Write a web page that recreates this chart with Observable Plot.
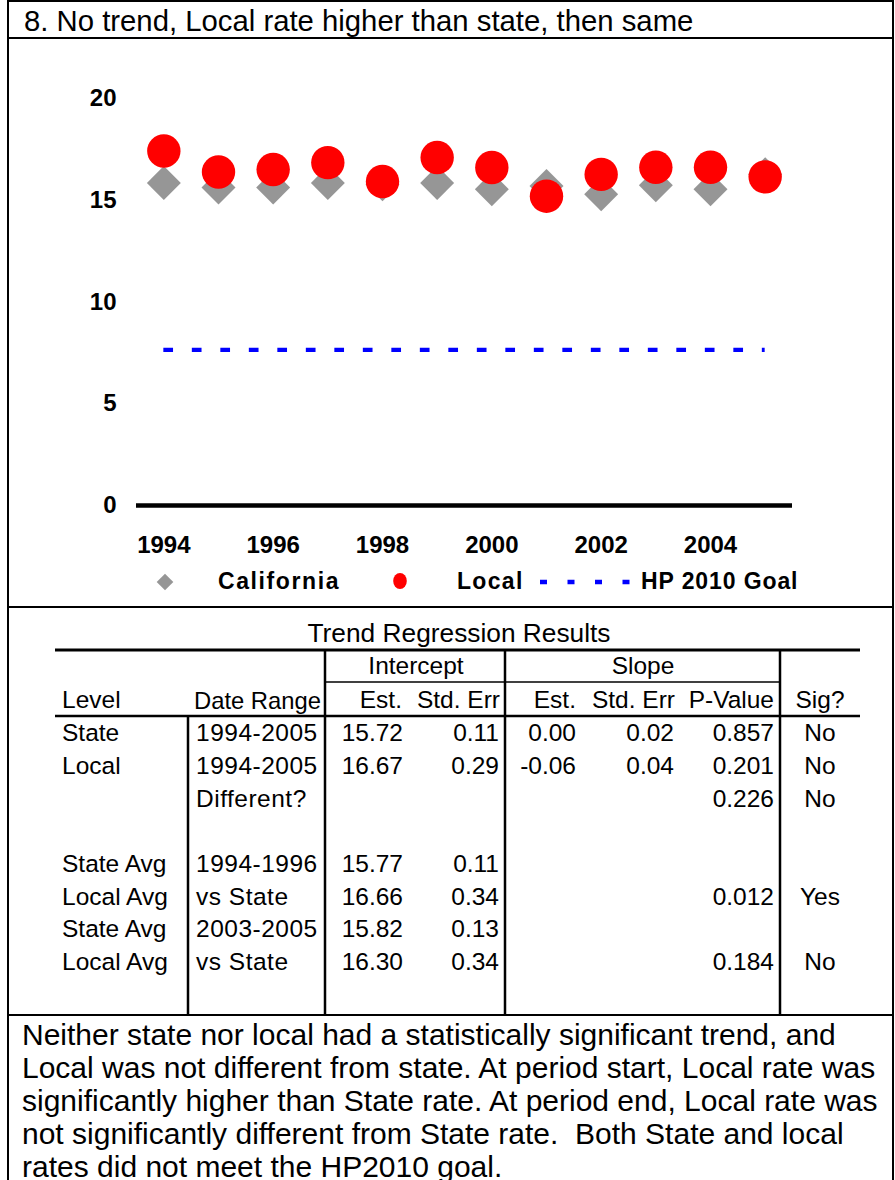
<!DOCTYPE html>
<html><head><meta charset="utf-8">
<script src="https://cdn.jsdelivr.net/npm/d3@7"></script>
<script src="https://cdn.jsdelivr.net/npm/@observablehq/plot@0.6"></script>
<style>
body{margin:0;background:#fff;}
#page{position:relative;width:895px;height:1180px;overflow:hidden;font-family:'Liberation Sans',Arial,sans-serif;color:#000;background:#fff;}
.t{position:absolute;white-space:pre;line-height:1;}
</style></head><body><div id="page"></div>
<script>
// ---- chart data ----
const years = [1994,1995,1996,1997,1998,1999,2000,2001,2002,2003,2004,2005];
const california = [15.85,15.63,15.63,15.85,15.79,15.85,15.54,15.70,15.30,15.74,15.54,16.28];
const local = [17.42,16.39,16.51,16.85,15.92,17.10,16.61,15.20,16.27,16.62,16.62,16.15];
const hpGoal = 7.65;
const goalStart = 1994, goalEnd = 2005;
const xTicks = [1994,1996,1998,2000,2002,2004];
const yTicks = [0,5,10,15,20];
const legendLabels = ["California","Local","HP 2010 Goal"];

// ---- texts ----
const titleText = "8. No trend, Local rate higher than state, then same";
const tableTitle = "Trend Regression Results";
const groupHeaders = ["Intercept","Slope"];
const colHeaders = ["Level","Date Range","Est.","Std. Err","Est.","Std. Err","P-Value","Sig?"];
const rowLevel = ["State","Local","","","State Avg","Local Avg","State Avg","Local Avg"];
const rowRange = ["1994-2005","1994-2005","Different?","","1994-1996","vs State","2003-2005","vs State"];
const intEst = ["15.72","16.67","","","15.77","16.66","15.82","16.30"];
const intErr = ["0.11","0.29","","","0.11","0.34","0.13","0.34"];
const slopeEst = ["0.00","-0.06","","","","","",""];
const slopeErr = ["0.02","0.04","","","","","",""];
const pValue = ["0.857","0.201","0.226","","","0.012","","0.184"];
const sig = ["No","No","No","","","Yes","","No"];
const noteLines = [
 "Neither state nor local had a statistically significant trend, and",
 "Local was not different from state. At period start, Local rate was",
 "significantly higher than State rate. At period end, Local rate was",
 "not significantly different from State rate.  Both State and local",
 "rates did not meet the HP2010 goal."
];

const page = document.getElementById("page");
const FONT = "'Liberation Sans', Arial, sans-serif";

function text(x, baseline, str, size, opts = {}) {
  const d = document.createElement("div");
  d.className = "t";
  d.textContent = str;
  d.style.fontSize = size + "px";
  d.style.left = x + "px";
  d.style.top = (baseline - 0.8465 * size) + "px";
  if (opts.bold) d.style.fontWeight = "bold";
  if (opts.ls) d.style.letterSpacing = opts.ls + "px";
  if (opts.anchor === "end") d.style.transform = "translateX(-100%)";
  if (opts.anchor === "middle") d.style.transform = "translateX(-50%)";
  page.appendChild(d);
  return d;
}

// ---- background svg: frame, table rules, legend swatches ----
const bg = d3.select(page).append("svg")
  .attr("width", 895).attr("height", 1180)
  .style("position", "absolute").style("left", 0).style("top", 0);

function line(x1, y1, x2, y2, w, color = "#000", dash = null) {
  const l = bg.append("line").attr("x1", x1).attr("y1", y1).attr("x2", x2).attr("y2", y2)
    .attr("stroke", color).attr("stroke-width", w);
  if (dash) l.attr("stroke-dasharray", dash);
}
// outer frame
line(8, 0, 8, 1180, 2);
line(893, 0, 893, 1180, 2);
line(8, 1, 893, 1, 2);
line(8, 38, 893, 38, 2);
line(8, 607, 893, 607, 2);
line(8, 1015, 893, 1015, 2);
// table rules
line(55, 650, 860, 650, 3);
line(325, 682, 780, 682, 1.6);
line(55, 716, 860, 716, 2.5);
[325, 505, 780].forEach(x => line(x, 650, x, 1015, 2.5));
line(188, 716, 188, 1015, 2.5);

// legend swatches
bg.append("path").attr("d", "M165,573.7L173.3,582L165,590.3L156.7,582Z").attr("fill", "#969696");
bg.append("ellipse").attr("cx", 400).attr("cy", 581).attr("rx", 6.8).attr("ry", 8).attr("fill", "#FF0000");
line(540, 582, 632, 582, 4.3, "#0000FF", "7,20.5");

// ---- chart ----
const data = years.map((y, i) => ({year: y, california: california[i], local: local[i]}));
const chart = Plot.plot({
  width: 895, height: 525,
  marginLeft: 136, marginRight: 103, marginTop: 58, marginBottom: 60,
  x: {domain: [1993.5, 2005.5]},
  y: {domain: [0, 20]},
  style: {fontFamily: FONT, fontSize: "24px", fontWeight: "bold", background: "transparent", overflow: "visible", color: "#000"},
  marks: [
    Plot.axisY({ticks: yTicks, tickSize: 0, tickPadding: 20, label: null, style: "letter-spacing:1.5px"}),
    Plot.axisX({ticks: xTicks, tickSize: 0, tickPadding: 30, tickFormat: d => String(d), label: null, style: "letter-spacing:0.6px"}),
    Plot.ruleY([0], {stroke: "#000", strokeWidth: 4.5}),
    Plot.ruleY([hpGoal], {x1: goalStart, x2: goalEnd, stroke: "#0000FF", strokeWidth: 4.3, strokeDasharray: "9.7,18.8"}),
    Plot.dot(data, {x: "year", y: "california", symbol: "diamond2", r: 15.3, fill: "#969696"}),
    Plot.dot(data, {x: "year", y: "local", r: 16.7, fill: "#FF0000"})
  ]
});
chart.style.position = "absolute";
chart.style.left = "0px";
chart.style.top = "40px";
page.appendChild(chart);

// ---- title ----
text(24, 31, titleText, 29.3);

// ---- legend texts ----
text(218, 589.5, legendLabels[0], 23, {bold: true, ls: 1.6});
text(457, 589.5, legendLabels[1], 23, {bold: true, ls: 1.3});
text(641, 589.5, legendLabels[2], 23, {bold: true, ls: 0.9});

// ---- table ----
const TS = 24.5;
text(459, 642, tableTitle, 26.3, {anchor: "middle"});
text(416, 675, groupHeaders[0], TS, {anchor: "middle"});
text(643, 675, groupHeaders[1], TS, {anchor: "middle"});
const hb = 709;
text(62, hb, colHeaders[0], TS);
text(321, hb, colHeaders[1], 23.8, {anchor: "end"});
text(402, hb, colHeaders[2], TS, {anchor: "end"});
text(500, hb, colHeaders[3], TS, {anchor: "end"});
text(576, hb, colHeaders[4], TS, {anchor: "end"});
text(675, hb, colHeaders[5], TS, {anchor: "end"});
text(774, hb, colHeaders[6], TS, {anchor: "end"});
text(820, hb, colHeaders[7], TS, {anchor: "middle"});
for (let i = 0; i < rowLevel.length; i++) {
  const b = 742 + i * 32.7;
  if (rowLevel[i]) text(62, b, rowLevel[i], TS);
  if (rowRange[i]) text(196, b, rowRange[i], TS, {ls: 0.5});
  if (intEst[i]) text(403, b, intEst[i], TS, {anchor: "end"});
  if (intErr[i]) text(499, b, intErr[i], TS, {anchor: "end"});
  if (slopeEst[i]) text(576, b, slopeEst[i], TS, {anchor: "end"});
  if (slopeErr[i]) text(674, b, slopeErr[i], TS, {anchor: "end"});
  if (pValue[i]) text(774, b, pValue[i], TS, {anchor: "end"});
  if (sig[i]) text(820, b, sig[i], TS, {anchor: "middle"});
}

// ---- note ----
noteLines.forEach((s, i) => text(22, 1045 + i * 33, s, 30));
</script>
</body></html>
